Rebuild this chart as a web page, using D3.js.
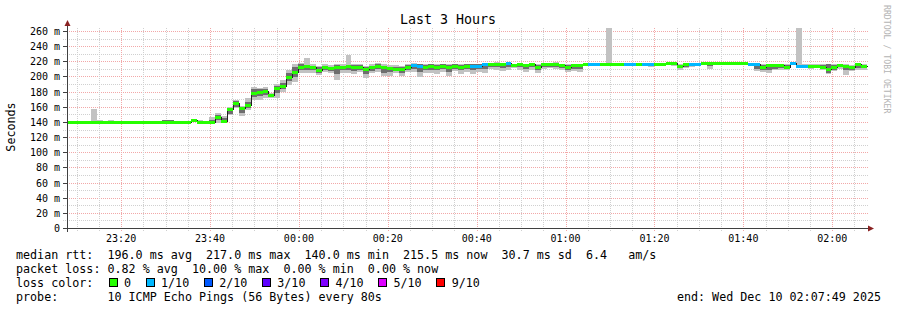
<!DOCTYPE html>
<html lang="en">
<head>
<meta charset="UTF-8">
<title>Last 3 Hours</title>
<script src="https://d3js.org/d3.v7.min.js"></script>
<style>
  body { margin: 0; background: #fff; }
  text { font-family: "DejaVu Sans Mono", monospace; fill: #000; }
</style>
</head>
<body>
<div id="chart"></div>
<script>

// median rtt per 80s step (ms), 135 steps over 3 hours
const median = [
  140,140,140,140,140,140,140,140,140,140,140,140,140,140,140,140,140,140,140,140,140,143,140,140,140,
  146,141.6,156.6,164.5,158,162.3,177.8,180,180.8,175.5,185.2,187.9,199.7,205.4,213,
  214,212,209,212,211,213,212,214,213,213,209.5,212,214,212,211,210.5,210,213,215,214,
  213,214,213,214,213,214,213,214,214,214,
  216,216,217,216,218,215,216,215,216,213,216,216,217,215,213,215,215,217,217,217,
  217,217,217,217,217,217,217,217,217,217,217,
  217.6,217.6,214,216,217,217,217.6,217.6,217.6,217.6,217.6,217.6,217.6,217.6,
  216.5,216.5,213,215,215,215,213,217.6,214,214,214,214,213,209.4,213,215.8,214,212,216,214
];
// smoke: outer band (min/max ping) and inner band
const smokeHi = [
  140,140,140,140,157,143,140,142,140,140,140,140,140,140,140,140,142,142,140,140,140,144,142,140,146,
  152,148,160,169,161,171,186,185,186,178,190,195,208,217,218,
  224,216,214,217,215,217,216,228,216,216,214,216,218,216,215,215,214,216,218,217,
  216,217,216,217,216,217,216,217,217,217,
  218,218,219,218,219,217,218,217,218,216,218,218,219,217,216,217,217,218,218,218,
  218,263.5,218,218,218,218,218,218,218,218,218,
  218,218,216,217,218,218,218,218,218,218,218,218,218,218,
  218,218,216,217,217,217,216,218,263.5,216,216,216,216,217,216,217,216,215,217,216
];
const smokeLo = [
  140,140,140,140,140,140,140,140,140,140,140,140,140,140,140,140,140,140,140,140,140,140,140,140,139,
  139,140,149,158,148,156,169,169,172,172,172,180,189,193,205,
  204,205,202,206,204,196,205,205,203,206,198,204,206,200,201,204,200,206,206,199,
  204,205,203,206,200,207,203,206,203,206,
  204,210,209,207,208,211,209,206,209,205,210,211,210,208,206,207,206,216,216,216,
  216,214,216,216,216,216,216,214,212,214,216,
  216,214,208,211,212,214,217,210,217,217,217,217,217,217,
  214,207,206,205,208,209,208,217,211,211,210,211,208,203,207,210,202,207,208,209
];
const innerHi = [
  140,140,140,140,140,140,140,140,140,140,140,140,140,140,140,140,142,142,140,140,140,140,140,140,143,
  149,145,158,167,160,166,183,183,184,177,187,192,204,212,216,
  215,214,212,214,213,215,214,215,215,215,212,214,216,214,213,213,212,215,216,216,
  215,216,215,216,215,216,215,216,216,216,
  217,217,218,217,218,216,217,216,217,215,217,217,218,216,215,216,216,217,217,217,
  217,218,217,217,217,217,217,217,217,217,217,
  218,218,215,217,217,217,218,218,218,218,218,218,218,218,
  217,217,215,216,216,216,215,218,215,215,215,215,215,216,215,216,215,213,217,215
];
const innerLo = [
  140,140,140,140,140,140,140,140,140,140,140,140,140,140,140,140,140,140,140,140,140,140,140,140,140,
  142,140,151,160,152,158,173,174,176,174,178,184,194,199,208,
  208,208,205,209,207,203,208,209,207,209,203,207,210,205,206,207,205,209,210,206,
  208,209,208,210,206,210,208,210,208,210,
  210,213,213,211,212,213,212,210,212,209,213,213,213,211,209,210,210,216,216,216,
  216,215,216,216,216,216,216,216,214,216,216,
  217,216,211,213,214,215,217,214,217,217,217,217,217,217,
  215,210,209,208,210,211,210,217,212,212,212,212,210,205,209,212,208,209,211,211
];
// steps that lost 1 of 10 pings
const lossSteps = [58,59,68,69,70,74,88,89,94,95,97,98,105,106,115,116,122,123,124];

const yTicks = [0,20,40,60,80,100,120,140,160,180,200,220,240,260];
const lossLegend = ['0','1/10','2/10','3/10','4/10','5/10','9/10'];
const lossColors = ['#26ff00','#00b8ff','#0059ff','#5e00ff','#7e00ff','#dd00ff','#ff0000'];

const legendLines = [
  'median rtt:  196.0 ms avg  217.0 ms max  140.0 ms min  215.5 ms now  30.7 ms sd  6.4   am/s',
  'packet loss: 0.82 % avg  10.00 % max  0.00 % min  0.00 % now',
  'loss color:',
  'probe:       10 ICMP Echo Pings (56 Bytes) every 80s'
];

const W = 897, H = 310;
const svg = d3.select('#chart').append('svg')
  .attr('width', W).attr('height', H);
svg.append('rect').attr('width', W).attr('height', H).attr('fill', '#fff');

const end = new Date(Date.UTC(2025, 11, 10, 2, 7, 49));
const start = new Date(end.getTime() - 3 * 3600 * 1000);
const stepMs = 80 * 1000;
const x = d3.scaleUtc().domain([start, end]).range([67, 867]);
const y = d3.scaleLinear().domain([0, 264]).range([228, 28]);
const t = i => new Date(start.getTime() + i * stepMs);

// grid
const grid = svg.append('g').attr('shape-rendering', 'crispEdges');
d3.range(10, 261, 10).forEach(v => {
  grid.append('line')
    .attr('x1', 63).attr('x2', 869)
    .attr('y1', Math.round(y(v)) + 0.5).attr('y2', Math.round(y(v)) + 0.5)
    .attr('stroke', v % 20 === 0 ? '#f2a8a8' : '#d0d0d0')
    .attr('stroke-dasharray', '1,1');
});
const minor = x.ticks(d3.utcMinute.every(5));
minor.forEach(d => {
  const major = d.getUTCMinutes() % 20 === 0;
  grid.append('line')
    .attr('x1', Math.round(x(d)) + 0.5).attr('x2', Math.round(x(d)) + 0.5)
    .attr('y1', 28).attr('y2', 232)
    .attr('stroke', major ? '#f2a8a8' : '#d0d0d0')
    .attr('stroke-dasharray', '1,1');
});

// smoke
const smoke = svg.append('g').attr('shape-rendering', 'crispEdges');
median.forEach((m, i) => {
  const x0 = Math.round(x(t(i))), x1 = Math.round(x(t(i + 1)));
  smoke.append('rect')
    .attr('x', x0).attr('width', x1 - x0)
    .attr('y', Math.round(y(smokeHi[i]))).attr('height', Math.max(0, Math.round(y(smokeLo[i])) - Math.round(y(smokeHi[i]))))
    .attr('fill', '#c2c2c2');
  smoke.append('rect')
    .attr('x', x0).attr('width', x1 - x0)
    .attr('y', Math.round(y(innerHi[i]))).attr('height', Math.max(0, Math.round(y(innerLo[i])) - Math.round(y(innerHi[i]))))
    .attr('fill', '#6e6e6e');
});

// median step line
const pts = median.map((m, i) => [t(i), m]).concat([[end, median[median.length - 1]]]);
svg.append('path')
  .attr('d', d3.line().x(d => Math.round(x(d[0])) + 0.5).y(d => Math.round(y(d[1])) + 0.5).curve(d3.curveStepAfter)(pts))
  .attr('fill', 'none').attr('stroke', '#202020').attr('stroke-width', 1)
  .attr('shape-rendering', 'crispEdges');

// loss coloured median boxes
const med = svg.append('g').attr('shape-rendering', 'crispEdges');
median.forEach((m, i) => {
  const x0 = Math.round(x(t(i))), x1 = Math.round(x(t(i + 1)));
  med.append('rect')
    .attr('x', x0).attr('width', x1 - x0)
    .attr('y', Math.round(y(m)) - 1).attr('height', 3)
    .attr('fill', lossSteps.includes(i) ? lossColors[1] : lossColors[0]);
});

// axes
const ax = svg.append('g').attr('shape-rendering', 'crispEdges');
ax.append('line').attr('x1', 67.5).attr('x2', 67.5).attr('y1', 25).attr('y2', 232).attr('stroke', '#404040');
ax.append('line').attr('x1', 63).attr('x2', 869).attr('y1', 228.5).attr('y2', 228.5).attr('stroke', '#404040');
yTicks.forEach(v => {
  ax.append('line').attr('x1', 63).attr('x2', 67)
    .attr('y1', Math.round(y(v)) + 0.5).attr('y2', Math.round(y(v)) + 0.5).attr('stroke', '#404040');
});
svg.append('path').attr('d', 'M64.5,26 L67.5,20 L70.5,26 Z').attr('fill', '#8a2222');
svg.append('path').attr('d', 'M868,225.5 L874,228.5 L868,231.5 Z').attr('fill', '#8a2222');

// tick labels
svg.append('g').selectAll('text').data(yTicks).join('text')
  .attr('x', 60).attr('y', d => y(d) + 4)
  .attr('text-anchor', 'end').attr('font-size', '10px').attr('fill', '#222')
  .text(d => d === 0 ? '0' : d + ' m');
svg.append('g').selectAll('text').data(x.ticks(d3.utcMinute.every(20))).join('text')
  .attr('x', d => x(d)).attr('y', 242)
  .attr('text-anchor', 'middle').attr('font-size', '10px').attr('fill', '#222')
  .text(d3.utcFormat('%H:%M'));

// title, labels
svg.append('text').attr('x', 448).attr('y', 24).attr('text-anchor', 'middle')
  .attr('font-size', '13.3px').text('Last 3 Hours');
svg.append('text').attr('transform', 'translate(15,127) rotate(-90)').attr('text-anchor', 'middle')
  .attr('font-size', '11.7px').text('Seconds');
svg.append('text').attr('transform', 'translate(884,5) rotate(90)')
  .attr('font-size', '8.2px').style('fill', '#b4b4b4').text('RRDTOOL / TOBI OETIKER');

// legend
legendLines.forEach((s, i) => {
  svg.append('text').attr('x', 16).attr('y', 258.5 + i * 14)
    .attr('font-size', '11.7px').attr('xml:space', 'preserve').style('white-space', 'pre').text(s);
});
let lx = 108.5;
lossLegend.forEach((lab, i) => {
  svg.append('rect').attr('x', lx + 0.5).attr('y', 278.5).attr('width', 8).attr('height', 8)
    .attr('fill', lossColors[i]).attr('stroke', '#000').attr('shape-rendering', 'crispEdges');
  svg.append('text').attr('x', lx + 15.5).attr('y', 286.5).attr('font-size', '11.7px').text(lab);
  lx = lx + 15.5 + lab.length * 7.03 + 14.5;
});
svg.append('text').attr('x', 881).attr('y', 300.5).attr('text-anchor', 'end')
  .attr('font-size', '11.7px').style('white-space', 'pre').text('end: Wed Dec 10 02:07:49 2025');

</script>
</body>
</html>
